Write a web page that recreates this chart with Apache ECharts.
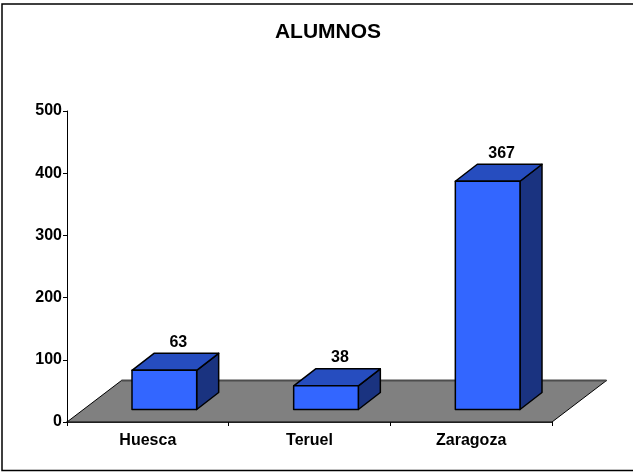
<!DOCTYPE html>
<html>
<head>
<meta charset="utf-8">
<style>
  html, body { margin: 0; padding: 0; background: #fff; }
  #chart { width: 633px; height: 472px; }
</style>
<script src="https://cdn.jsdelivr.net/npm/echarts@6/dist/echarts.min.js"></script>
</head>
<body>
<div id="chart"></div>
<script>
var categories = ['Huesca', 'Teruel', 'Zaragoza'];
var alumnos = [63, 38, 367];
var yTicks = { min: 0, max: 500, interval: 100 };

var fontFamily = '"Liberation Sans", Arial, sans-serif';

// fake 3D, offsets in px
var floorDepth = [54.5, -41.5];
var barShift = [16.5, -12.5];
var barDepth = [22, -17];

function renderFloor (params, api) {
  var cs = params.coordSys;
  var left = cs.x, right = cs.x + cs.width, bottom = cs.y + cs.height;
  var backY = bottom + floorDepth[1];
  return {
    type: 'group',
    children: [{
      type: 'polygon',
      shape: { points: [[left, bottom], [left + floorDepth[0], backY], [right + floorDepth[0], backY], [right, bottom]] },
      style: { fill: '#808080', stroke: '#000', lineWidth: 1 }
    }, {
      type: 'line',
      shape: { x1: left + floorDepth[0], y1: backY, x2: right + floorDepth[0], y2: backY },
      style: { stroke: '#4d4d4d', lineWidth: 2 }
    }]
  };
}

function renderBar (params, api) {
  var base = api.coord([api.value(0), 0]);
  var top = api.coord([api.value(0), api.value(1)]);
  var w = api.size([1, 0])[0] * 0.4;
  var x0 = base[0] - w / 2 + barShift[0];
  var x1 = x0 + w;
  var yb = base[1] + barShift[1];
  var yt = top[1] + barShift[1];
  var dx = barDepth[0], dy = barDepth[1];
  var line = { stroke: '#000', lineWidth: 1.5, lineJoin: 'round' };
  return {
    type: 'group',
    children: [{
      type: 'polygon',
      shape: { points: [[x1, yt], [x1 + dx, yt + dy], [x1 + dx, yb + dy], [x1, yb]] },
      style: Object.assign({ fill: '#1a3380' }, line)
    }, {
      type: 'polygon',
      shape: { points: [[x0, yt], [x0 + dx, yt + dy], [x1 + dx, yt + dy], [x1, yt]] },
      style: Object.assign({ fill: '#264dbf' }, line)
    }, {
      type: 'rect',
      shape: { x: x0, y: yt, width: w, height: yb - yt },
      style: Object.assign({ fill: '#3366ff' }, line)
    }, {
      type: 'text',
      style: {
        x: (x0 + x1 + dx) / 2 + 3,
        y: yt + dy - 11,
        text: String(api.value(1)),
        fill: '#000',
        font: 'bold 16px ' + fontFamily,
        textAlign: 'center',
        textVerticalAlign: 'middle'
      }
    }]
  };
}

var option = {
  animation: false,
  backgroundColor: '#fff',
  title: {
    text: 'ALUMNOS',
    left: 323,
    top: 17,
    textAlign: 'center',
    textStyle: { fontFamily: fontFamily, fontSize: 21, fontWeight: 'bold', color: '#000' }
  },
  graphic: [{
    // frame runs off the right edge of the picture
    type: 'rect',
    shape: { x: 2, y: 4, width: 640, height: 466.5 },
    style: { fill: 'none', stroke: '#000', lineWidth: 1.5 }
  }],
  grid: { left: 67, top: 111, width: 485, height: 311 },
  xAxis: {
    type: 'category',
    data: categories,
    axisLine: { lineStyle: { color: '#000', width: 1.5 } },
    axisTick: { show: true, length: 4, alignWithLabel: false, lineStyle: { color: '#000', width: 1 } },
    axisLabel: { color: '#000', fontFamily: fontFamily, fontSize: 16, fontWeight: 'bold', margin: 11 }
  },
  yAxis: {
    type: 'value',
    min: yTicks.min,
    max: yTicks.max,
    interval: yTicks.interval,
    splitLine: { show: false },
    axisLine: { show: true, lineStyle: { color: '#000', width: 1 } },
    axisTick: { show: true, length: 4, lineStyle: { color: '#000', width: 1 } },
    axisLabel: { color: '#000', fontFamily: fontFamily, fontSize: 16, fontWeight: 'bold', margin: 5 }
  },
  series: [{
    type: 'custom',
    name: 'floor',
    renderItem: renderFloor,
    data: [[0, 0]],
    silent: true,
    clip: false,
    z: 1
  }, {
    type: 'custom',
    name: 'ALUMNOS',
    renderItem: renderBar,
    encode: { x: 0, y: 1 },
    data: alumnos.map(function (v, i) { return [i, v]; }),
    clip: false,
    z: 5
  }]
};

var chart = echarts.init(document.getElementById('chart'), null, { renderer: 'canvas' });
chart.setOption(option);
</script>
</body>
</html>
